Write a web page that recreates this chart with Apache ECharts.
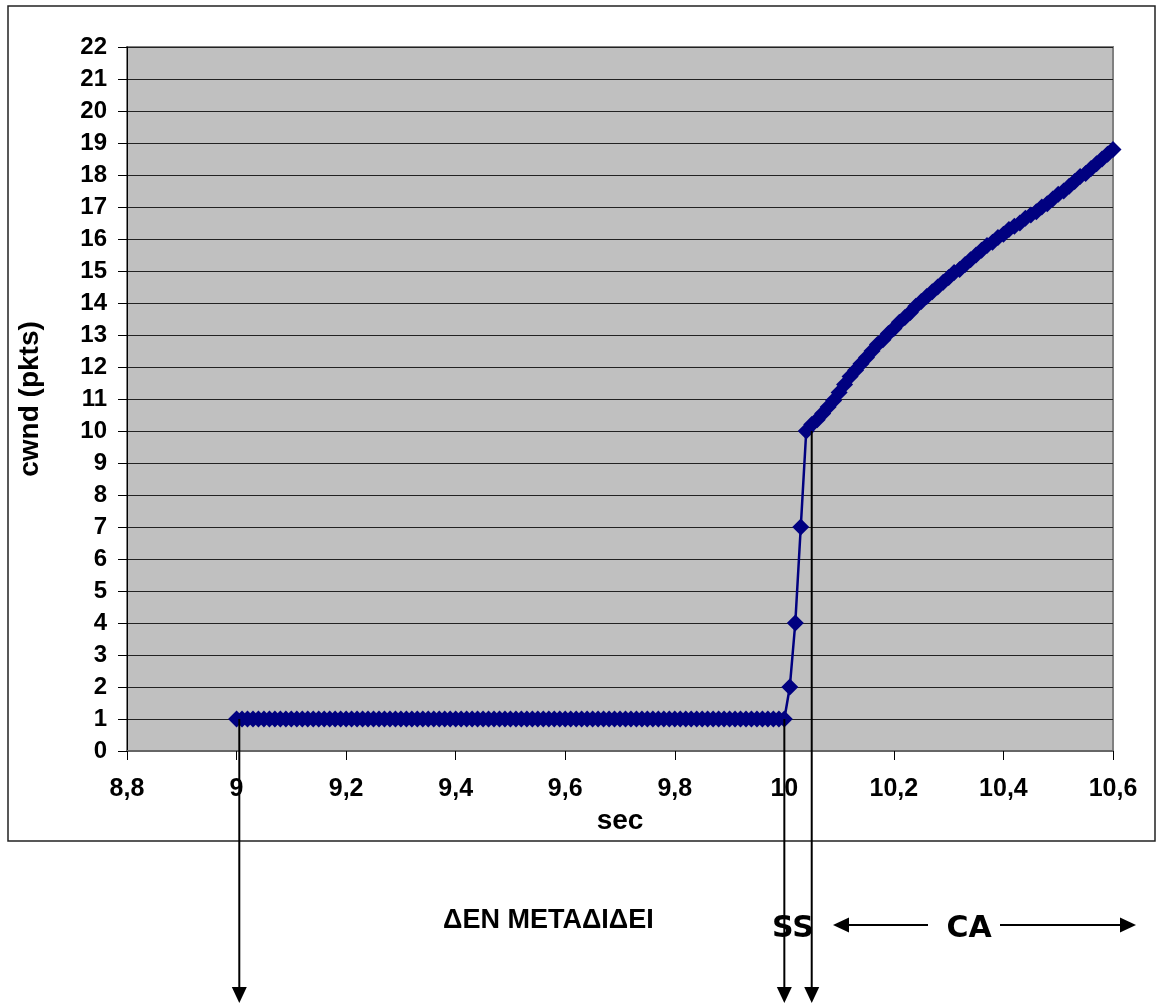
<!DOCTYPE html>
<html>
<head>
<meta charset="utf-8">
<script src="https://cdn.jsdelivr.net/npm/echarts@6/dist/echarts.min.js"></script>
<style>
  html, body { margin: 0; padding: 0; background: #fff; }
  #chart { width: 1157px; height: 1005px; }
</style>
</head>
<body>
<div id="chart"></div>
<script>
// idle phase: cwnd stays at 1 packet
var idleTime = [
  9.00, 9.01, 9.02, 9.03, 9.04, 9.05, 9.06, 9.07, 9.08, 9.09,
  9.10, 9.11, 9.12, 9.13, 9.14, 9.15, 9.16, 9.17, 9.18, 9.19,
  9.20, 9.21, 9.22, 9.23, 9.24, 9.25, 9.26, 9.27, 9.28, 9.29,
  9.30, 9.31, 9.32, 9.33, 9.34, 9.35, 9.36, 9.37, 9.38, 9.39,
  9.40, 9.41, 9.42, 9.43, 9.44, 9.45, 9.46, 9.47, 9.48, 9.49,
  9.50, 9.51, 9.52, 9.53, 9.54, 9.55, 9.56, 9.57, 9.58, 9.59,
  9.60, 9.61, 9.62, 9.63, 9.64, 9.65, 9.66, 9.67, 9.68, 9.69,
  9.70, 9.71, 9.72, 9.73, 9.74, 9.75, 9.76, 9.77, 9.78, 9.79,
  9.80, 9.81, 9.82, 9.83, 9.84, 9.85, 9.86, 9.87, 9.88, 9.89,
  9.90, 9.91, 9.92, 9.93, 9.94, 9.95, 9.96, 9.97, 9.98, 9.99,
  10.00
];
var idleCwnd = 1;

// slow start
var ssTime = [10.01, 10.02, 10.03];
var ssCwnd = [2, 4, 7];

// congestion avoidance
var caTime = [
  10.04, 10.05, 10.06, 10.07, 10.08, 10.09, 10.10, 10.11, 10.12, 10.13,
  10.14, 10.15, 10.16, 10.17, 10.18, 10.19, 10.20, 10.21, 10.22, 10.23,
  10.24, 10.25, 10.26, 10.27, 10.28, 10.29, 10.30, 10.31, 10.32, 10.33,
  10.34, 10.35, 10.36, 10.37, 10.38, 10.39, 10.40, 10.41, 10.42, 10.43,
  10.44, 10.45, 10.46, 10.47, 10.48, 10.49, 10.50, 10.51, 10.52, 10.53,
  10.54, 10.55, 10.56, 10.57, 10.58, 10.59, 10.60
];
var caCwnd = [
  10.0, 10.2, 10.35, 10.55, 10.75, 10.95, 11.2, 11.45, 11.7, 11.9,
  12.1, 12.3, 12.5, 12.7, 12.85, 13.05, 13.2, 13.4, 13.55, 13.7,
  13.9, 14.05, 14.2, 14.35, 14.5, 14.65, 14.8, 14.95, 15.05, 15.2,
  15.35, 15.5, 15.65, 15.8, 15.9, 16.05, 16.15, 16.3, 16.4, 16.5,
  16.65, 16.75, 16.85, 17.0, 17.1, 17.25, 17.4, 17.5, 17.65, 17.8,
  17.95, 18.05, 18.2, 18.35, 18.5, 18.65, 18.8
];

var xTicks = { min: 8.8, max: 10.6, step: 0.2 };
var yTicks = { min: 0, max: 22, step: 1 };

// annotation arrow anchors [time, cwnd]
var markIdle = [9.005, 1];
var markSS = [10.0, 1];
var markCA = [10.05, 10];

var seriesData = [];
idleTime.forEach(function (t) { seriesData.push([t, idleCwnd]); });
ssTime.forEach(function (t, i) { seriesData.push([t, ssCwnd[i]]); });
caTime.forEach(function (t, i) { seriesData.push([t, caCwnd[i]]); });

var FONT = '"Liberation Sans", Arial, sans-serif';

var chart = echarts.init(document.getElementById('chart'));

var option = {
  animation: false,
  backgroundColor: '#ffffff',
  grid: {
    left: 127, top: 47, width: 986, height: 704,
    show: true,
    backgroundColor: '#c0c0c0',
    borderColor: '#808080',
    borderWidth: 2
  },
  xAxis: {
    type: 'value',
    min: xTicks.min, max: xTicks.max, interval: xTicks.step,
    name: 'sec',
    nameLocation: 'middle',
    nameGap: 46,
    nameTextStyle: { fontFamily: FONT, fontWeight: 'bold', fontSize: 28, color: '#000' },
    axisLine: { show: true, onZero: false, lineStyle: { color: '#666', width: 2 } },
    axisTick: { show: true, length: 9, lineStyle: { color: '#000' } },
    axisLabel: {
      margin: 26,
      fontFamily: FONT, fontWeight: 'bold', fontSize: 25, color: '#000',
      formatter: function (v) { return String(Math.round(v * 10) / 10).replace('.', ','); }
    },
    splitLine: { show: false }
  },
  yAxis: {
    type: 'value',
    min: yTicks.min, max: yTicks.max, interval: yTicks.step,
    name: 'cwnd (pkts)',
    nameLocation: 'middle',
    nameGap: 83,
    nameTextStyle: { fontFamily: FONT, fontWeight: 'bold', fontSize: 28, color: '#000' },
    axisLine: { show: true, lineStyle: { color: '#000', width: 1 } },
    axisTick: { show: true, length: 9, lineStyle: { color: '#000' } },
    axisLabel: { margin: 20, fontFamily: FONT, fontWeight: 'bold', fontSize: 24, color: '#000' },
    splitLine: { show: true, lineStyle: { color: '#222', width: 1 } }
  },
  series: [{
    type: 'line',
    data: seriesData,
    symbol: 'diamond',
    symbolSize: 17,
    showAllSymbol: true,
    clip: false,
    itemStyle: { color: '#000080' },
    lineStyle: { color: '#000080', width: 2.5 }
  }]
};

chart.setOption(option);

function arrowDown(x, yTop, yBottom) {
  return [
    { type: 'line', shape: { x1: x, y1: yTop, x2: x, y2: yBottom - 14 },
      style: { stroke: '#000', lineWidth: 2 }, z: 100 },
    { type: 'polygon', shape: { points: [[x - 7.5, yBottom - 16], [x + 7.5, yBottom - 16], [x, yBottom]] },
      style: { fill: '#000' }, z: 100 }
  ];
}

var pIdle = chart.convertToPixel({ gridIndex: 0 }, markIdle);
var pSS = chart.convertToPixel({ gridIndex: 0 }, markSS);
var pCA = chart.convertToPixel({ gridIndex: 0 }, markCA);
var arrowBottom = 1003;
var rowY = 925;

var graphics = [
  { type: 'rect', shape: { x: 8, y: 6, width: 1147, height: 835 },
    style: { fill: 'none', stroke: '#222', lineWidth: 1.5 }, z: 90, silent: true }
];
graphics = graphics.concat(arrowDown(pIdle[0], pIdle[1], arrowBottom));
graphics = graphics.concat(arrowDown(pSS[0], pSS[1], arrowBottom));
graphics = graphics.concat(arrowDown(pCA[0], pCA[1], arrowBottom));

// CA range arrows
graphics.push(
  { type: 'line', shape: { x1: 928, y1: rowY, x2: 845, y2: rowY }, style: { stroke: '#000', lineWidth: 2 }, z: 100 },
  { type: 'polygon', shape: { points: [[833, rowY], [849, rowY - 7.5], [849, rowY + 7.5]] }, style: { fill: '#000' }, z: 100 },
  { type: 'line', shape: { x1: 1000, y1: rowY, x2: 1122, y2: rowY }, style: { stroke: '#000', lineWidth: 2 }, z: 100 },
  { type: 'polygon', shape: { points: [[1136, rowY], [1120, rowY - 7.5], [1120, rowY + 7.5]] }, style: { fill: '#000' }, z: 100 },
  { type: 'text', x: 443, y: 921, z: 100,
    style: { text: 'ΔΕΝ ΜΕΤΑΔΙΔΕΙ', fontFamily: FONT, fontWeight: 'bold', fontSize: 27, fill: '#000',
             textAlign: 'left', textVerticalAlign: 'middle' } },
  { type: 'text', x: 793, y: 929, z: 101,
    style: { text: 'SS', fontFamily: '"DejaVu Sans", Verdana, sans-serif', fontWeight: 'bold', fontSize: 30, fill: '#000',
             textAlign: 'center', textVerticalAlign: 'middle' } },
  { type: 'text', x: 969, y: 929, z: 100,
    style: { text: 'CA', fontFamily: '"DejaVu Sans", Verdana, sans-serif', fontWeight: 'bold', fontSize: 30, fill: '#000',
             textAlign: 'center', textVerticalAlign: 'middle' } }
);

chart.setOption({ graphic: graphics });
</script>
</body>
</html>
